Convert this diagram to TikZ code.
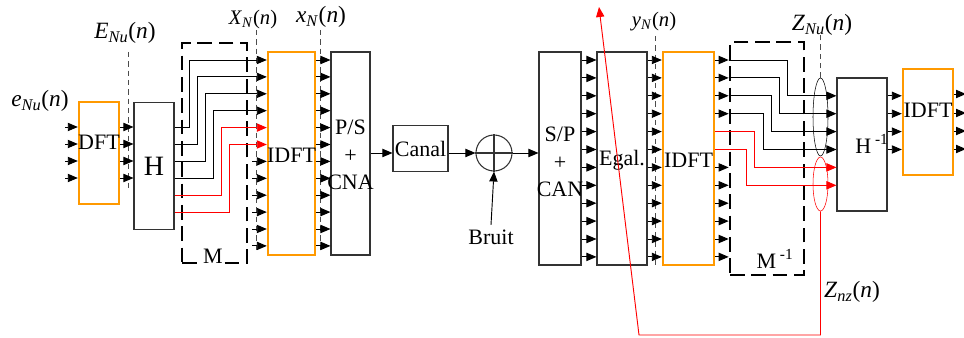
\documentclass[tikz,border=0pt]{standalone}
\usepackage{fontspec}
\setmainfont{Liberation Serif}
\usetikzlibrary{arrows.meta,shapes.geometric}
\definecolor{boxorange}{RGB}{255,153,0}
\newcommand{\sig}[2]{\textit{#1}\textsubscript{\textit{#2}}(\textit{n})}
\tikzset{
  box/.style={draw=black!80,line width=0.8pt,inner sep=0pt},
  obox/.style={draw=boxorange,line width=1.8pt,inner sep=0pt},
  sz/.style 2 args={minimum width=#1*0.75pt,minimum height=#2*0.75pt},
  arr/.style={-{Triangle[length=7.5pt,width=6.2pt]},line width=0.7pt},
  guide/.style={draw=black!70,dash pattern=on 4pt off 3pt,line width=0.7pt},
  mbox/.style={draw=black,line width=2pt,dash pattern=on 11pt off 5pt,inner sep=0pt},
  lbl/.style={font=\fontsize{17.5}{20}\selectfont},
  slbl/.style={font=\fontsize{15.5}{18}\selectfont},
  stack/.style={align=center,inner sep=0pt,font=\fontsize{16.5}{20.5}\selectfont}
}
\begin{document}
\begin{tikzpicture}[x=0.75pt,y=-0.75pt,font=\fontsize{16.5}{19}\selectfont]
  \useasboundingbox (0,0) rectangle (964,338);

  % emitter
  \node[obox,sz={40}{102}] (dft) at (99,153) {};
  \node (dfttxt) at (99,142) {DFT};
  \node[box,sz={40}{127},font=\fontsize{21}{24}\selectfont] (h) at (154,166) {H};
  \node[mbox,sz={65}{220}] (m) at (214.5,153) {};
  \node[fill=white,inner sep=1pt] (mtxt) at (213,256) {M};
  \node[obox,sz={47}{203}] (idft) at (291.5,153.5) {};
  \node (idfttxt) at (291.5,155) {IDFT};
  \node[box,sz={39}{203}] (ps) at (350.5,153.5) {};
  \node[stack] (pstxt) at (350.5,155) {P/S\\+\\CNA};

  % channel
  \node[box,sz={55}{46}] (canal) at (420.5,148.5) {Canal};
  \node[draw=black!80,line width=0.8pt,circle,minimum size=27pt,inner sep=0pt] (sum) at (494,153) {};
  \node (bruit) at (491,237) {Bruit};

  % receiver
  \node[box,sz={42}{213}] (sp) at (560,158.5) {};
  \node[stack] (sptxt) at (560,162) {S/P\\+\\CAN};
  \node[box,sz={50}{213}] (egal) at (622,158.5) {};
  \node (egaltxt) at (622,160) {Egal.};
  \node[obox,sz={51}{213}] (idftb) at (688.5,158.5) {};
  \node (idftbtxt) at (688.5,160) {IDFT};
  \node[mbox,sz={74}{233}] (minv) at (767,158.5) {};
  \node[fill=white,inner sep=1pt] (minvtxt) at (775,259) {M\,\textsuperscript{-1}};
  \node[box,sz={50}{133}] (hinv) at (862,144.5) {};
  \node (hinvtxt) at (872,144) {H\,\textsuperscript{-1}};
  \node[obox,sz={50}{106}] (idftc) at (928,122) {};
  \node (idftctxt) at (928,110) {IDFT};
  \node[draw,ellipse,sz={15}{78},inner sep=0pt] (zu) at (820.5,117) {};
  \node[draw=red,ellipse,sz={15}{54},inner sep=0pt] (zz) at (820.5,184) {};

  % labels
  \node[lbl] (enu) at (40,101) {\sig{e}{Nu}};
  \node[lbl] (bignu) at (125,33) {\sig{E}{Nu}};
  \node[slbl] (xbig) at (253,20) {\sig{X}{N}};
  \node[lbl] (xsmall) at (321,17) {\sig{x}{N}};
  \node[slbl] (yn) at (654,22) {\sig{y}{N}};
  \node[lbl] (znu) at (822,25) {\sig{Z}{Nu}};
  \node[lbl] (znz) at (852,292) {\sig{Z}{nz}};

  % guides
  \draw[guide] (128,52) -- (128,190);
  \draw[guide] (256,30) -- (256,250);
  \draw[guide] (320,30) -- (320,252);
  \draw[guide] (655,36) -- (655,266);
  \draw[guide] (zu.north) -- ++(0,-45);

  % emitter arrows
  \foreach \y in {127,144,161,178} {
    \draw[arr] (65,\y) -- (dft.west |- 0,\y);
    \draw[arr] (dft.east |- 0,\y) -- (h.west |- 0,\y);
  }
  \foreach \hy/\bx/\iy/\col in {127/189/60/black,144/197/76.9/black,161/205/93.8/black,
      178/213/110.7/black,195/221/127.6/red,212/229/144.5/red}
    \draw[arr,\col] (h.east |- 0,\hy) -| (\bx,\iy) -- (idft.west |- 0,\iy);
  \foreach \y in {161.4,178.3,195.2,212.1,229,245.9}
    \draw[arr] (252,\y) -- (idft.west |- 0,\y);
  \foreach \k [evaluate=\k as \y using 60+16.9*\k] in {0,...,11}
    \draw[arr] (idft.east |- 0,\y) -- (ps.west |- 0,\y);

  % channel arrows
  \draw[arr] (ps.east |- 0,153) -- (canal.west |- 0,153);
  \draw[arr] (canal.east |- 0,153) -- (sum.west);
  \draw[arr] (sum.east) -- (sp.west |- 0,153);
  \draw[line width=0.8pt,black!80] (sum.north) -- (sum.south) (sum.west) -- (sum.east);
  \draw[arr] (bruit.north) -- (sum.south);

  % receiver arrows
  \foreach \k [evaluate=\k as \y using 60+17.9*\k] in {0,...,11} {
    \draw[arr] (sp.east |- 0,\y) -- (egal.west |- 0,\y);
    \draw[arr] (egal.east |- 0,\y) -- (idftb.west |- 0,\y);
  }
  \foreach \y/\bx/\ty in {60/787/95.8,77.9/779/113.7,95.8/771/131.6,113.7/763/149.5} {
    \draw[arr] (idftb.east |- 0,\y) -- (minv.west |- 0,\y);
    \draw[arr] (minv.west |- 0,\y) -| (\bx,\ty) -- (hinv.west |- 0,\ty);
  }
  \foreach \y/\bx/\ty in {131.6/754/167.4,149.5/746/185.3}
    \draw[arr,red] (idftb.east |- 0,\y) -| (\bx,\ty) -- (hinv.west |- 0,\ty);
  \foreach \k [evaluate=\k as \y using 60+17.9*\k] in {6,...,11}
    \draw[arr] (idftb.east |- 0,\y) -- (minv.west |- 0,\y);
  \foreach \y in {95.8,113.7,131.6,149.5}
    \draw[arr] (hinv.east |- 0,\y) -- (idftc.west |- 0,\y);
  \foreach \y in {94,113,131,149}
    \draw[arr] (idftc.east |- 0,\y) -- (966,\y);

  % feedback
  \coordinate (fbk) at (599,7);
  \draw[arr,red] (zz.south) |- (639,335) -- (fbk);
\end{tikzpicture}
\end{document}
